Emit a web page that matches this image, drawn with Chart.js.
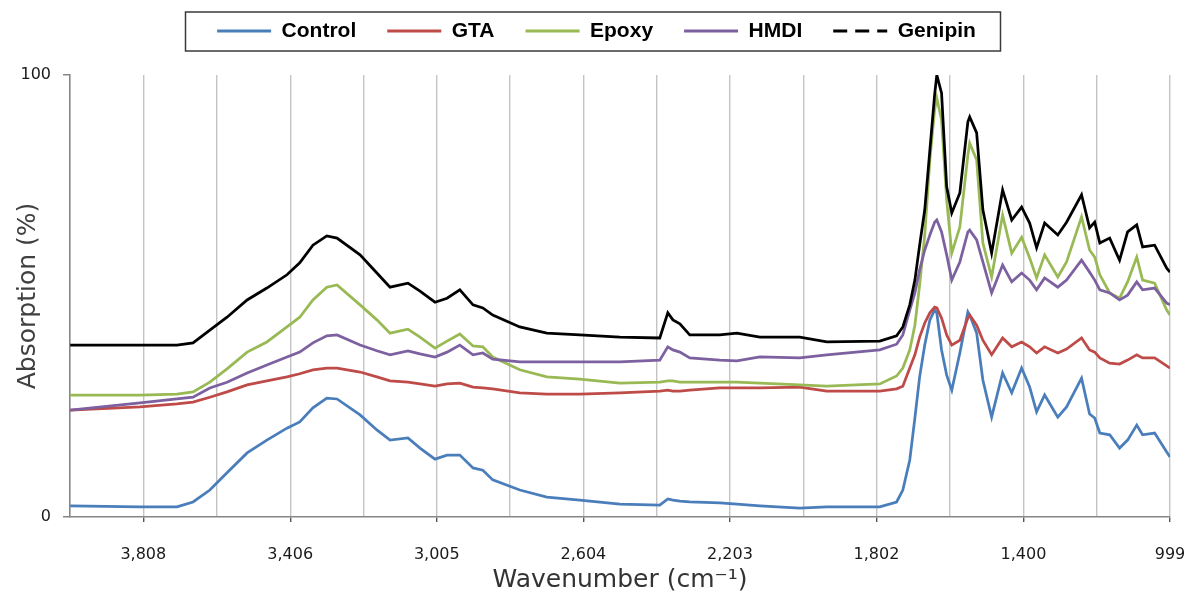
<!DOCTYPE html>
<html><head><meta charset="utf-8">
<script src="https://cdn.jsdelivr.net/npm/chart.js@4.4.1/dist/chart.umd.min.js"></script>
<style>html,body{margin:0;padding:0;background:#fff;}</style>
</head><body>
<canvas id="c" width="1193" height="605"></canvas>
<script>
// ---- data (wavenumber in cm-1, absorption in %) ----
const wavenumbers = [4008,3817,3716,3672,3626,3579,3524,3470,3415,3380,
  3344,3306,3278,3215,3169,3133,3084,3051,3010,2977,
  2942,2906,2879,2852,2778,2704,2614,2504,2395,2373,
  2359,2340,2313,2231,2184,2121,2012,1938,1793,1747,
  1730,1711,1697,1684,1670,1656,1643,1637,1624,1610,
  1596,1574,1552,1547,1528,1511,1487,1457,1432,1405,
  1383,1364,1342,1306,1282,1241,1219,1205,1191,1164,
  1137,1115,1090,1074,1041,1008,999];
const control = [2.5,2.3,2.3,3.4,6.1,10.0,14.5,17.4,20.1,21.5,
  24.7,26.9,26.7,23.1,19.7,17.4,17.9,15.6,13.1,14.0,
  14.0,11.1,10.6,8.4,6.1,4.5,3.8,2.9,2.7,4.1,
  3.8,3.6,3.4,3.2,2.9,2.5,2.0,2.3,2.3,3.4,
  6.1,12.9,22.4,31.7,38.9,44.6,46.8,46.2,37.8,32.1,
  28.7,37.1,46.4,45.7,41.6,31.0,22.6,32.6,28.1,33.7,
  29.4,23.8,27.6,22.6,24.9,31.4,23.3,22.4,19.0,18.6,
  15.6,17.4,20.8,18.6,19.0,14.7,13.6];
const gta = [24.2,24.9,25.6,26.0,27.1,28.3,29.9,30.8,31.7,32.4,
  33.3,33.7,33.7,32.8,31.7,30.8,30.5,30.1,29.6,30.1,
  30.3,29.4,29.2,29.0,28.1,27.8,27.8,28.1,28.5,28.7,
  28.5,28.5,28.7,29.2,29.2,29.2,29.4,28.5,28.5,29.0,
  29.6,33.7,36.7,40.7,43.9,46.2,47.5,47.3,45.0,41.2,
  38.9,40.0,45.0,45.7,43.4,40.0,36.7,40.5,38.5,39.6,
  38.5,37.1,38.5,37.1,38.0,40.5,37.8,37.3,36.0,34.8,
  34.6,35.5,36.7,36.0,36.0,34.2,33.7];
const epoxy = [27.6,27.6,27.8,28.3,30.5,33.5,37.3,39.6,43.0,45.2,
  49.1,52.0,52.5,48.0,44.6,41.6,42.5,40.7,38.2,39.8,
  41.4,38.7,38.5,36.2,33.3,31.7,31.2,30.3,30.5,30.8,
  30.8,30.5,30.5,30.5,30.5,30.3,29.9,29.6,30.1,31.9,
  33.7,37.8,43.4,52.5,63.8,80.8,92.1,94.8,89.8,71.7,
  59.7,65.6,81.9,84.6,80.8,62.0,54.3,68.3,59.7,63.3,
  58.6,54.1,59.3,54.3,57.7,67.9,60.4,58.8,54.8,50.7,
  49.5,53.2,58.8,53.6,52.9,46.8,45.7];
const hmdi = [24.2,25.8,26.7,27.1,29.2,30.5,32.6,34.4,36.2,37.3,
  39.4,41.0,41.2,38.9,37.6,36.7,37.6,36.9,36.2,37.3,
  38.9,36.7,37.1,35.7,35.1,35.1,35.1,35.1,35.5,38.5,
  37.8,37.3,36.0,35.5,35.3,36.2,36.0,36.7,37.8,39.1,
  41.2,46.8,50.7,55.9,60.4,63.8,66.7,67.2,64.5,59.3,
  53.6,57.7,64.5,64.9,62.7,57.7,50.7,57.0,53.2,55.2,
  53.6,51.4,54.1,52.0,53.6,58.1,55.4,53.6,51.4,50.7,
  49.1,50.2,53.2,51.4,51.8,48.4,48.0];
const genipin = [38.9,38.9,38.9,39.4,42.3,45.2,49.1,51.8,54.8,57.5,
  61.5,63.6,63.1,59.3,55.2,52.0,52.9,51.1,48.6,49.5,
  51.4,48.0,47.3,45.7,43.0,41.6,41.2,40.7,40.5,46.2,
  44.6,43.7,41.2,41.2,41.6,40.7,40.7,39.6,39.8,41.0,
  43.0,48.0,53.6,61.5,69.5,83.0,95.5,100,95.9,74.7,
  68.8,73.3,89.4,90.5,86.9,69.5,59.7,74.0,67.2,70.1,
  66.5,60.9,66.5,63.8,66.7,72.9,65.4,66.7,62.0,63.1,
  58.1,64.5,66.1,61.1,61.5,56.3,55.4];
const seriesNames = ['Control','GTA','Epoxy','HMDI','Genipin'];
const xTickLabels = [3808,3406,3005,2604,2203,1802,1400,999];
const yTickValues = [0,100];
const xMin = 999, xMax = 4008.6;

// ---- build ----
const seriesValues = [control, gta, epoxy, hmdi, genipin];
const colors = ['#4a7ebb','#be4b48','#98b954','#7d60a0','#000000'];
const datasets = seriesNames.map((name, i) => ({
  label: name,
  data: wavenumbers.map((w, j) => ({x: w, y: seriesValues[i][j]})),
  borderColor: colors[i],
  backgroundColor: colors[i],
  borderWidth: 2.75,
  pointRadius: 0,
  tension: 0,
  fill: false,
  order: seriesNames.length - i
}));

function gridValues() {
  const v = xTickLabels.slice();
  for (let i = 0; i < xTickLabels.length - 1; i++) v.push((xTickLabels[i] + xTickLabels[i + 1]) / 2);
  v.push(xMax);
  return v.sort((a, b) => a - b);
}

const legendHeight = {
  id: 'legendHeight',
  beforeLayout(chart) {
    const lg = chart.legend;
    if (lg && !lg.__patched) {
      const f = lg.fit;
      lg.fit = function () { f.call(this); this.height = 85.5; };
      lg.__patched = true;
    }
  }
};
const legendFrame = {
  id: 'legendFrame',
  afterDraw(chart) {
    const c = chart.ctx;
    c.save();
    c.strokeStyle = '#3a3a3a';
    c.lineWidth = 1.5;
    c.strokeRect(185.5, 12, 815, 39);
    c.restore();
  }
};

new Chart(document.getElementById('c'), {
  type: 'line',
  data: { datasets },
  plugins: [legendHeight, legendFrame],
  options: {
    responsive: false,
    animation: false,
    layout: { padding: { top: -10.5, left: 0, right: 0, bottom: 0 } },
    plugins: {
      tooltip: { enabled: false },
      legend: {
        position: 'top',
        labels: {
          usePointStyle: true,
          pointStyle: 'line',
          pointStyleWidth: 54,
          padding: 31,
          color: '#000',
          font: { family: 'Liberation Sans', weight: 'bold', size: 21 },
          sort: (a, b) => a.datasetIndex - b.datasetIndex,
          generateLabels(chart) {
            const items = Chart.defaults.plugins.legend.labels.generateLabels(chart);
            items.forEach(it => {
              it.pointStyle = 'line';
              it.lineWidth = 3;
              if (it.text === 'Genipin') it.lineDash = [14, 8];
            });
            return items;
          }
        }
      }
    },
    scales: {
      x: {
        type: 'linear',
        reverse: true,
        min: xMin,
        max: xMax,
        afterBuildTicks: s => { s.ticks = gridValues().map(v => ({ value: v })); },
        afterFit: s => { s.height = 88; s.paddingRight = 23; },
        ticks: {
          autoSkip: false,
          maxRotation: 0,
          padding: 23,
          color: '#1a1a1a',
          font: { family: 'DejaVu Sans', size: 16 },
          callback: v => xTickLabels.includes(v) ? v.toLocaleString('en-US') : ''
        },
        grid: {
          color: '#c4c4c4',
          lineWidth: 1.4,
          tickLength: 5,
          tickColor: ctx => (ctx.tick && xTickLabels.includes(ctx.tick.value)) ? '#555' : 'rgba(0,0,0,0)'
        },
        border: { color: '#868686', width: 1.5 },
        title: {
          display: true,
          text: 'Wavenumber (cm⁻¹)',
          color: '#333',
          font: { family: 'DejaVu Sans', size: 25 },
          padding: { top: 0, bottom: 10 }
        }
      },
      y: {
        type: 'linear',
        min: 0,
        max: 100,
        afterBuildTicks: s => { s.ticks = yTickValues.map(v => ({ value: v })); },
        afterFit: s => { s.width = 70; },
        ticks: {
          padding: 12,
          color: '#1a1a1a',
          font: { family: 'DejaVu Sans', size: 16 }
        },
        grid: { drawOnChartArea: false, tickLength: 7, tickColor: '#868686', lineWidth: 1.5 },
        border: { color: '#868686', width: 1.5 },
        title: {
          display: true,
          text: 'Absorption (%)',
          color: '#404040',
          font: { family: 'DejaVu Sans', size: 25 },
          padding: { top: 13, bottom: 0 }
        }
      }
    }
  }
});
</script>
</body></html>
